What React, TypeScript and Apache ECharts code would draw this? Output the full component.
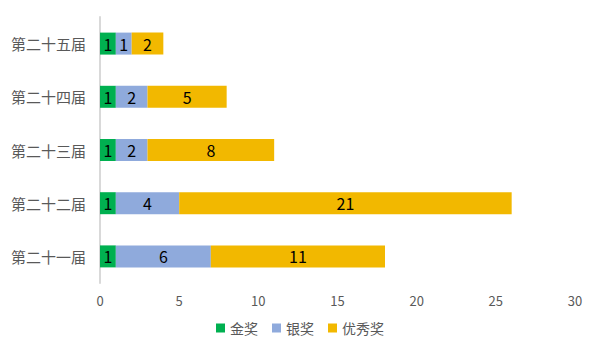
import React, { useEffect, useRef } from "react";
import * as echarts from "echarts";

const categories = ["第二十一届", "第二十二届", "第二十三届", "第二十四届", "第二十五届"];
const gold = [1, 1, 1, 1, 1];
const silver = [6, 4, 2, 2, 1];
const excellent = [11, 21, 8, 5, 2];
const seriesNames = ["金奖", "银奖", "优秀奖"];
const colors = ["#00B050", "#8FAADC", "#F2B800"];

export default function App() {
  const ref = useRef<HTMLDivElement>(null);
  useEffect(() => {
    document.body.style.margin = "0";
    const chart = echarts.init(ref.current!, null, { renderer: "svg" });
    const font = '"Noto Sans CJK SC", "Noto Sans", sans-serif';
    const data = [gold, silver, excellent];
    chart.setOption({
      animation: false,
      textStyle: { fontFamily: font },
      grid: { left: 100, right: 25, top: 17, bottom: 77, containLabel: false },
      legend: {
        bottom: 20,
        left: "center",
        itemWidth: 9,
        itemHeight: 9,
        itemGap: 14,
        icon: "rect",
        textStyle: { fontSize: 14, color: "#595959", fontFamily: font },
        data: seriesNames,
      },
      xAxis: {
        type: "value",
        min: 0,
        max: 30,
        interval: 5,
        axisLine: { show: false },
        axisTick: { show: false },
        splitLine: { show: false },
        axisLabel: { fontSize: 13, color: "#595959", margin: 11, fontFamily: font },
      },
      yAxis: {
        type: "category",
        data: categories,
        axisLine: { show: true, lineStyle: { color: "#D9D9D9", width: 2 } },
        axisTick: { show: false },
        axisLabel: { fontSize: 15, color: "#595959", margin: 14, fontFamily: font },
      },
      series: seriesNames.map((name, i) => ({
        name,
        type: "bar",
        stack: "total",
        barWidth: 22,
        itemStyle: { color: colors[i] },
        label: {
          show: true,
          position: "inside",
          color: "#000",
          fontSize: 16,
          fontFamily: font,
        },
        data: data[i],
      })),
    });
    return () => chart.dispose();
  }, []);
  return <div ref={ref} style={{ width: 600, height: 360 }} />;
}
